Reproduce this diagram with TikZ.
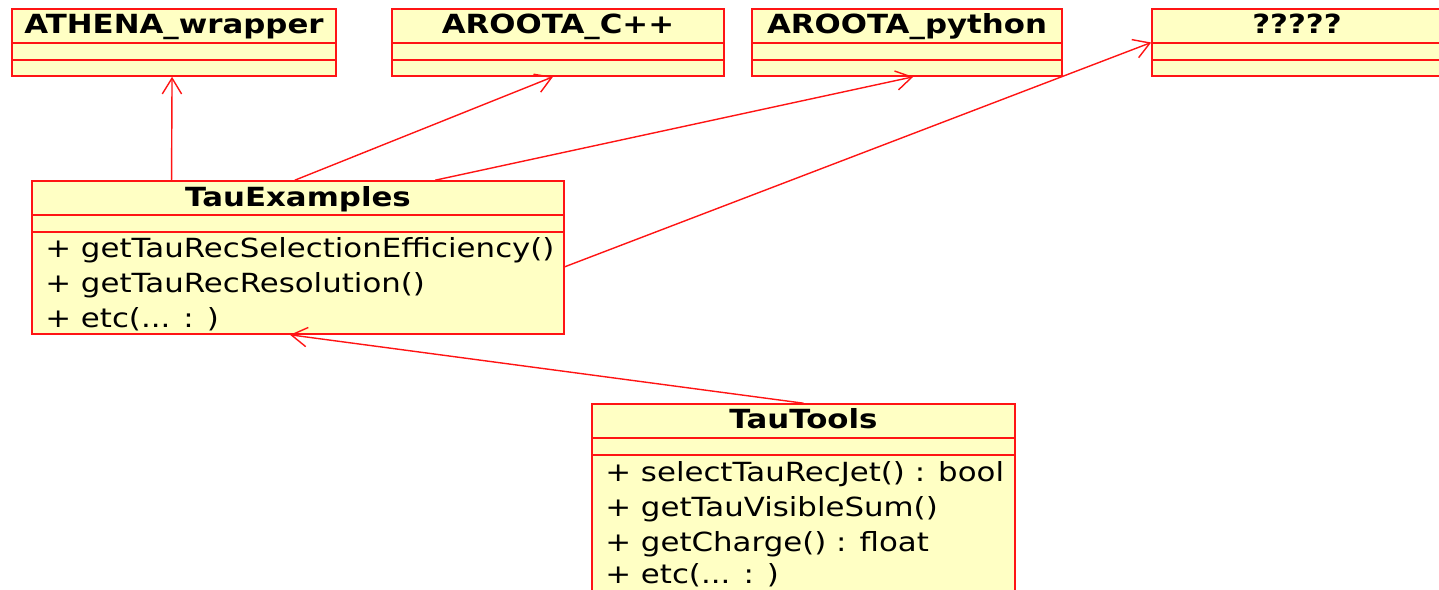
\documentclass[tikz,border=0pt]{standalone}
\usepackage{fontspec}
\setmainfont{DejaVu Sans}[FakeStretch=1.17]
\usepackage{tikz}
\usetikzlibrary{arrows.meta,calc}
\definecolor{umlred}{RGB}{255,20,20}
\definecolor{umlfill}{RGB}{255,255,196}
\newdimen\pxu \pxu=0.02cm
\tikzset{
  classbox/.style={rectangle, draw=umlred, fill=umlfill, line width=0.9pt, inner sep=0pt},
  classline/.style={draw=umlred, line width=0.9pt},
  classtitle/.style={inner sep=0pt, anchor=base, font=\fontsize{15}{17}\selectfont\bfseries},
  method/.style={inner sep=0pt, anchor=base west, font=\fontsize{15}{17}\selectfont},
  uses/.style={draw=umlred, line width=0.8pt, -{Straight Barb[length=9pt,width=11pt]}}
}
\begin{document}
\begin{tikzpicture}[x=0.02cm,y=-0.02cm]
\useasboundingbox (0,0) rectangle (1439,589);
% library classes along the top
\node[classbox, minimum width=324\pxu, minimum height=67\pxu] (athena) at (174,42.5) {};
\node[classbox, minimum width=332\pxu, minimum height=67\pxu] (croot) at (558,42.5) {};
\node[classbox, minimum width=310\pxu, minimum height=67\pxu] (pyroot) at (907,42.5) {};
\node[classbox, minimum width=290\pxu, minimum height=67\pxu] (unknown) at (1297,42.5) {};
\foreach \c in {athena,croot,pyroot,unknown} {
  \draw[classline] (\c.west |- 0,43) -- (\c.east |- 0,43);
  \draw[classline] (\c.west |- 0,60) -- (\c.east |- 0,60);
}
\node[classtitle] (athenaT) at (174,33) {ATHENA\_wrapper};
\node[classtitle] (crootT) at (558,33) {AROOTA\_C++};
\node[classtitle] (pyrootT) at (907,33) {AROOTA\_python};
\node[classtitle] (unknownT) at (1297,33) {?????};
%
% TauExamples
\node[classbox, minimum width=532\pxu, minimum height=153\pxu] (tauex) at (298,257.5) {};
\draw[classline] (tauex.west |- 0,215) -- (tauex.east |- 0,215);
\draw[classline] (tauex.west |- 0,232) -- (tauex.east |- 0,232);
\node[classtitle] (tauexT) at (298,206) {TauExamples};
\node[method] (ex1) at (45,257) {+ getTauRecSelectionEfficiency()};
\node[method] (ex2) at (45,292) {+ getTauRecResolution()};
\node[method] (ex3) at (45,327) {+ etc(... : )};
%
% TauTools
\node[classbox, minimum width=423\pxu, minimum height=196\pxu] (tools) at (803.5,502) {};
\draw[classline] (tools.west |- 0,438) -- (tools.east |- 0,438);
\draw[classline] (tools.west |- 0,455) -- (tools.east |- 0,455);
\node[classtitle] (toolsT) at (803.5,428) {TauTools};
\node[method] (tl1) at (605,481) {+ selectTauRecJet() : bool};
\node[method] (tl2) at (605,516) {+ getTauVisibleSum()};
\node[method] (tl3) at (605,551) {+ getCharge() : float};
\node[method] (tl4) at (605,583) {+ etc(... : )};
%
% dependencies
\draw[uses] ($(tauex.north west)!0.263!(tauex.north east)$) -- ($(athena.south west)!0.494!(athena.south east)$);
\draw[uses] ($(tauex.north west)!0.494!(tauex.north east)$) -- ($(croot.south west)!0.485!(croot.south east)$);
\draw[uses] ($(tauex.north west)!0.757!(tauex.north east)$) -- ($(pyroot.south west)!0.52!(pyroot.south east)$);
\draw[uses] ($(tauex.north east)!0.56!(tauex.south east)$) -- (unknown.west);
\draw[uses] (tools.north) -- ($(tauex.south west)!0.485!(tauex.south east)$);
\end{tikzpicture}
\end{document}
